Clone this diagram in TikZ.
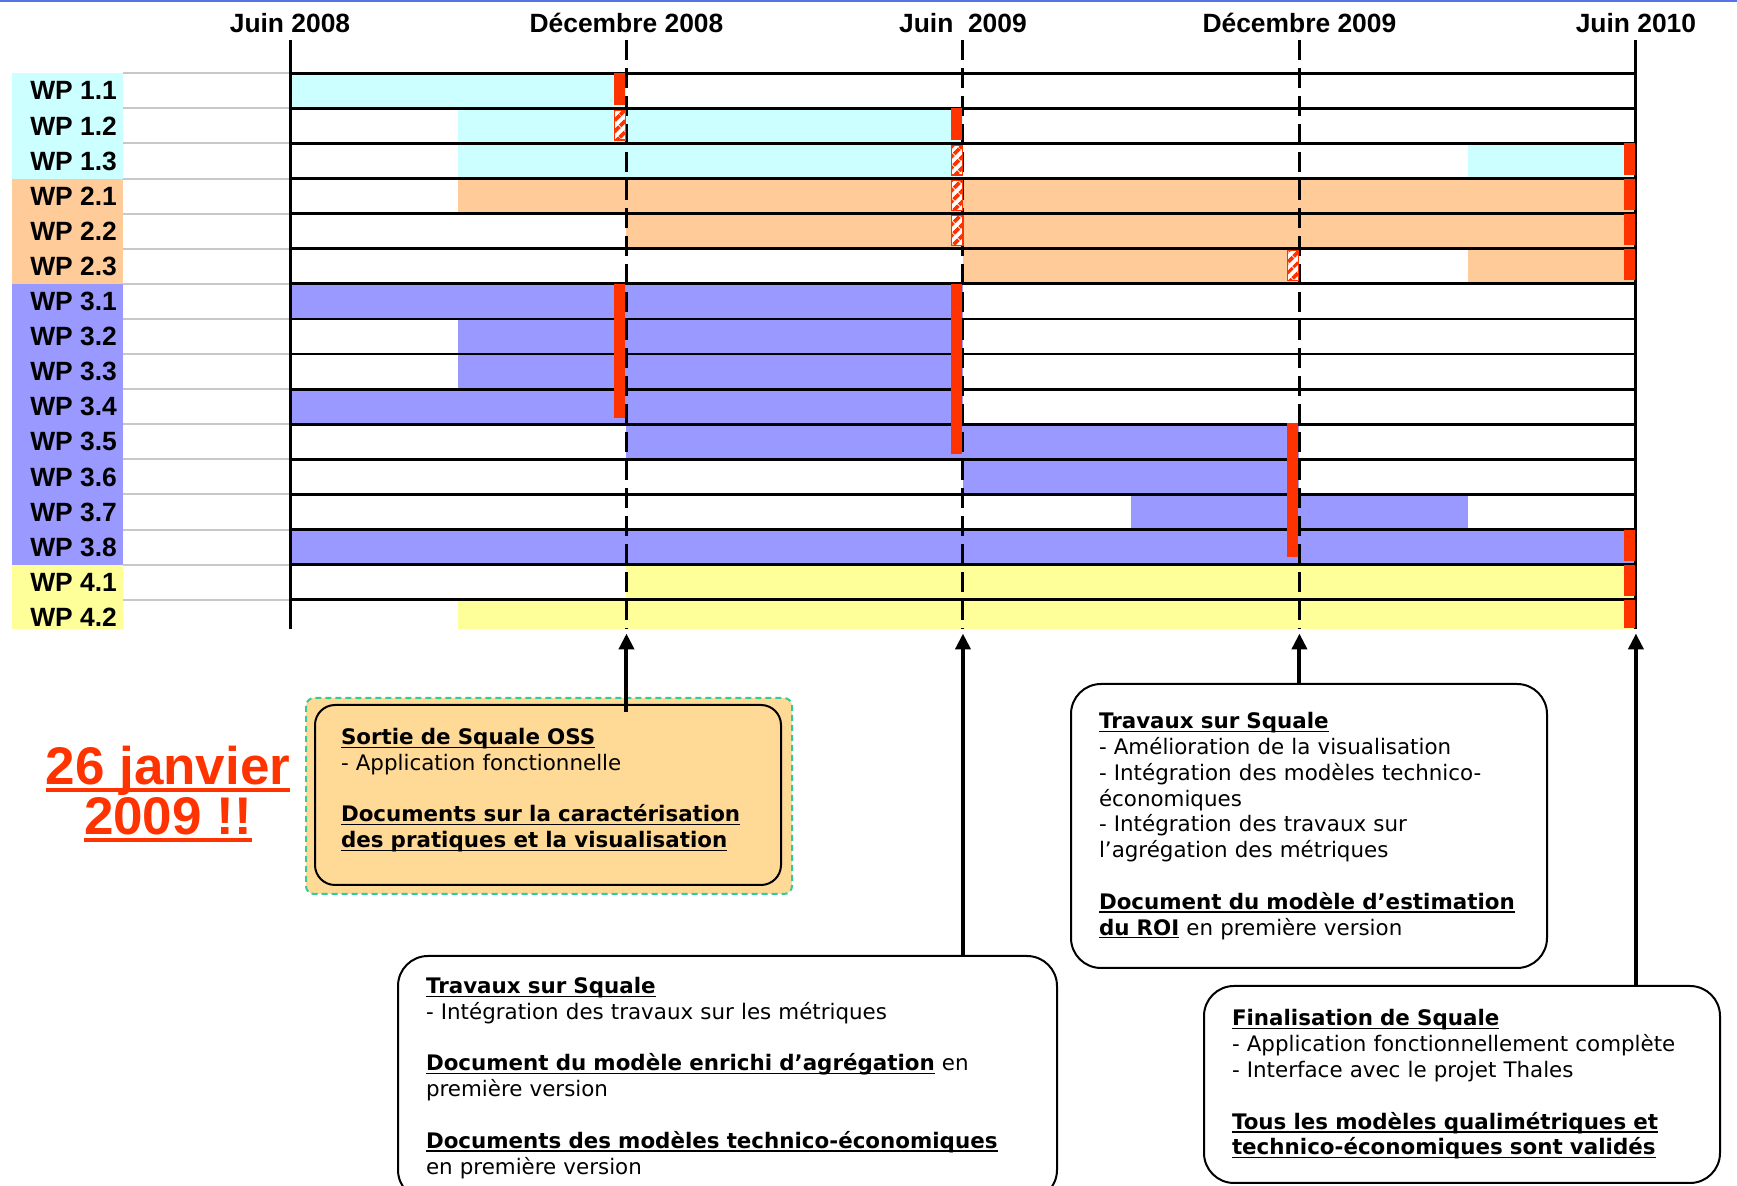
\documentclass[tikz,border=0pt]{standalone}
\usepackage{fontspec}
\setmainfont{DejaVu Sans}
\newfontfamily\chartfont{Liberation Sans}
\usetikzlibrary{arrows.meta,patterns.meta,backgrounds}

\definecolor{wpcyan}{RGB}{204,255,255}
\definecolor{wppeche}{RGB}{255,204,153}
\definecolor{wpmauve}{RGB}{153,153,255}
\definecolor{wpjaune}{RGB}{255,255,153}
\definecolor{rouge}{RGB}{255,51,0}
\definecolor{grisligne}{RGB}{200,200,200}
\definecolor{orangeboite}{RGB}{255,217,150}
\definecolor{vertpointille}{RGB}{51,204,153}
\definecolor{bleuhaut}{RGB}{85,115,230}

% soulignement a profondeur fixe
\newlength{\soulprof}\setlength{\soulprof}{1.7pt}
\newlength{\soulep}\setlength{\soulep}{0.7pt}
\newcommand{\souligne}[1]{\leavevmode\setbox0\hbox{#1}\rlap{\rule[-\soulprof]{\wd0}{\soulep}}\box0\relax}
\newcommand{\titre}[1]{\souligne{\textbf{#1}}}

\tikzset{
  ligne/.style={line width=1.4pt},
  axe/.style={line width=1.5pt},
  axepointille/.style={line width=1.5pt, dash pattern=on 10pt off 4pt},
  livrable/.style={fill=rouge},
  livrablepartiel/.style={draw=rouge, line width=0.6pt, preaction={fill=white},
    pattern={Lines[angle=45,distance=4pt,line width=2pt]}, pattern color=rouge},
  etiquette/.style={inner sep=0pt, font=\chartfont\bfseries\fontsize{13.2}{15}\selectfont},
  boite/.style={draw, line width=1pt, fill=white, rounded corners=15pt, anchor=north west,
    align=left, inner xsep=14pt, inner ysep=2pt, font=\fontsize{10.7}{12.9}\selectfont},
  fleche/.style={line width=2pt, -{Triangle[length=8pt,width=7.5pt]}},
}

\begin{document}
\begin{tikzpicture}[x=0.5pt,y=-0.5pt]
\useasboundingbox (0,0) rectangle (1737,1186);
\clip (0,0) rectangle (1737,1186);
\draw[bleuhaut, line width=1pt] (0,1) -- (1737,1);

\begin{scope}[shift={(290,73.3)},x=28.04pt,y=-17.55pt]
% colonne des WP
\fill[wpcyan] (-4.96,0) rectangle (-2.98,3);
\fill[wppeche] (-4.96,3) rectangle (-2.98,6);
\fill[wpmauve] (-4.96,6) rectangle (-2.98,14);
\fill[wpjaune] (-4.96,14) rectangle (-2.98,15.83);

% WP 1
\fill[wpcyan] (0,0) rectangle (6,1);
\fill[wpcyan] (3,1) rectangle (12,2);
\fill[wpcyan] (3,2) rectangle (12,3);
\fill[wpcyan] (21,2) rectangle (24,3);
% WP 2
\fill[wppeche] (3,3) rectangle (24,4);
\fill[wppeche] (6,4) rectangle (24,5);
\fill[wppeche] (12,5) rectangle (18,6);
\fill[wppeche] (21,5) rectangle (24,6);
% WP 3
\fill[wpmauve] (0,6) rectangle (12,7);
\fill[wpmauve] (3,7) rectangle (12,8);
\fill[wpmauve] (3,8) rectangle (12,9);
\fill[wpmauve] (0,9) rectangle (12,10);
\fill[wpmauve] (6,10) rectangle (18,11);
\fill[wpmauve] (12,11) rectangle (18,12);
\fill[wpmauve] (15,12) rectangle (21,13);
\fill[wpmauve] (0,13) rectangle (24,14);
% WP 4
\fill[wpjaune] (6,14) rectangle (24,15);
\fill[wpjaune] (3,15) rectangle (24,15.83);

\draw[grisligne, line width=1pt] (-2.98,0) -- (0,0) (-2.98,1) -- (0,1) (-2.98,2) -- (0,2)
  (-2.98,3) -- (0,3) (-2.98,4) -- (0,4) (-2.98,5) -- (0,5) (-2.98,6) -- (0,6)
  (-2.98,7) -- (0,7) (-2.98,8) -- (0,8) (-2.98,9) -- (0,9) (-2.98,10) -- (0,10)
  (-2.98,11) -- (0,11) (-2.98,12) -- (0,12) (-2.98,13) -- (0,13) (-2.98,14) -- (0,14)
  (-2.98,15) -- (0,15);
\draw[ligne] (0,0) -- (24,0) (0,1) -- (24,1) (0,2) -- (24,2) (0,3) -- (24,3)
  (0,4) -- (24,4) (0,5) -- (24,5) (0,6) -- (24,6) (0,7) -- (24,7)
  (0,8) -- (24,8) (0,9) -- (24,9) (0,10) -- (24,10) (0,11) -- (24,11)
  (0,12) -- (24,12) (0,13) -- (24,13) (0,14) -- (24,14) (0,15) -- (24,15);

\draw[axe] (0,-0.95) -- (0,15.83);
\draw[axepointille] (6,-0.95) -- (6,15.83);
\draw[axepointille] (12,-0.95) -- (12,15.83);
\draw[axepointille] (18,-0.95) -- (18,15.83);
\draw[axe] (24,-0.95) -- (24,15.83);

% jalons
\fill[livrable] (5.78,0) rectangle (5.98,0.9);
\fill[livrable] (11.78,1) rectangle (11.98,1.9);
\fill[livrable] (23.78,2) rectangle (23.98,2.9);
\fill[livrable] (23.78,3) rectangle (23.98,3.9);
\fill[livrable] (23.78,4) rectangle (23.98,4.9);
\fill[livrable] (23.78,5) rectangle (23.98,5.9);
\fill[livrable] (5.78,6) rectangle (5.98,9.82);
\fill[livrable] (11.78,6) rectangle (11.98,10.84);
\fill[livrable] (17.78,9.96) rectangle (17.98,13.78);
\fill[livrable] (23.78,13) rectangle (23.98,13.9);
\fill[livrable] (23.78,14) rectangle (23.98,14.9);
\fill[livrable] (23.78,15) rectangle (23.98,15.8);
\draw[livrablepartiel] (5.78,1.05) rectangle (5.98,1.9);
\draw[livrablepartiel] (11.79,2.05) rectangle (11.99,2.9);
\draw[livrablepartiel] (11.79,3.05) rectangle (11.99,3.9);
\draw[livrablepartiel] (11.8,4.05) rectangle (12,4.9);
\draw[livrablepartiel] (17.78,5.05) rectangle (17.98,5.9);

\node[etiquette, anchor=base] (hJuin08) at (0,-1.15) {Juin 2008};
\node[etiquette, anchor=base] (hDec08) at (6,-1.15) {Décembre 2008};
\node[etiquette, anchor=base] (hJuin09) at (12,-1.15) {Juin~~2009};
\node[etiquette, anchor=base] (hDec09) at (18,-1.15) {Décembre 2009};
\node[etiquette, anchor=base] (hJuin10) at (24,-1.15) {Juin 2010};

\node[etiquette, anchor=east] (wp11) at (-3.08,0.5) {WP 1.1};
\node[etiquette, anchor=east] (wp12) at (-3.08,1.5) {WP 1.2};
\node[etiquette, anchor=east] (wp13) at (-3.08,2.5) {WP 1.3};
\node[etiquette, anchor=east] (wp21) at (-3.08,3.5) {WP 2.1};
\node[etiquette, anchor=east] (wp22) at (-3.08,4.5) {WP 2.2};
\node[etiquette, anchor=east] (wp23) at (-3.08,5.5) {WP 2.3};
\node[etiquette, anchor=east] (wp31) at (-3.08,6.5) {WP 3.1};
\node[etiquette, anchor=east] (wp32) at (-3.08,7.5) {WP 3.2};
\node[etiquette, anchor=east] (wp33) at (-3.08,8.5) {WP 3.3};
\node[etiquette, anchor=east] (wp34) at (-3.08,9.5) {WP 3.4};
\node[etiquette, anchor=east] (wp35) at (-3.08,10.5) {WP 3.5};
\node[etiquette, anchor=east] (wp36) at (-3.08,11.5) {WP 3.6};
\node[etiquette, anchor=east] (wp37) at (-3.08,12.5) {WP 3.7};
\node[etiquette, anchor=east] (wp38) at (-3.08,13.5) {WP 3.8};
\node[etiquette, anchor=east] (wp41) at (-3.08,14.5) {WP 4.1};
\node[etiquette, anchor=east] (wp42) at (-3.08,15.5) {WP 4.2};

\coordinate (finDec08) at (6,15.96);
\coordinate (finJuin09) at (12,15.96);
\coordinate (finDec09) at (18,15.96);
\coordinate (finJuin10) at (24,15.96);
\end{scope}

\node[text=rouge, align=center, font={\chartfont\bfseries\fontsize{26.5}{25}\selectfont
  \setlength{\soulprof}{3.5pt}\setlength{\soulep}{2pt}}]
  (annonce) at (168,794) {\souligne{26 janvier}\\\souligne{2009 !!}};

\node[boite, fill=orangeboite, rounded corners=10pt, inner xsep=13pt, text width=207pt,
  minimum height=90pt] (boiteA) at (314,704) {\titre{Sortie de Squale OSS}\\
  - Application fonctionnelle\\[12.9pt]
  \titre{Documents sur la caractérisation}\\
  \titre{des pratiques et la visualisation}\\[-5.9pt]\mbox{}};
\begin{scope}[on background layer]
\draw[vertpointille, fill=orangeboite, line width=1pt, dash pattern=on 3pt off 2pt,
  rounded corners=4pt] ([shift={(-8,-6)}]boiteA.north west) rectangle ([shift={(10,8)}]boiteA.south east);
\end{scope}

\node[boite, text width=301.5pt, minimum height=122pt] (boiteB) at (397,955) {\titre{Travaux sur Squale}\\
  - Intégration des travaux sur les métriques\\[12.9pt]
  \titre{Document du modèle enrichi d’agrégation} en\\
  première version\\[12.9pt]
  \titre{Documents des modèles technico-économiques}\\
  en première version};

\node[boite, text width=210pt, minimum height=142pt] (boiteC) at (1070,683) {\titre{Travaux sur Squale}\\
  - Amélioration de la visualisation\\
  - Intégration des modèles technico-\\
  économiques\\
  - Intégration des travaux sur\\
  l’agrégation des métriques\\[12.9pt]
  \titre{Document du modèle d’estimation}\\
  \titre{du ROI} en première version};

\node[boite, text width=230pt, minimum height=98.5pt] (boiteD) at (1203,985) {\titre{Finalisation de Squale}\\
  - Application fonctionnellement complète\\
  - Interface avec le projet Thales\\[12.9pt]
  \titre{Tous les modèles qualimétriques et}\\
  \titre{technico-économiques sont validés}};

\draw[fleche] ([yshift=-4pt]boiteA.north -| finDec08) -- (finDec08);
\draw[fleche] (boiteB.north -| finJuin09) -- (finJuin09);
\draw[fleche] (boiteC.north -| finDec09) -- (finDec09);
\draw[fleche] (boiteD.north -| finJuin10) -- (finJuin10);
\end{tikzpicture}
\end{document}
